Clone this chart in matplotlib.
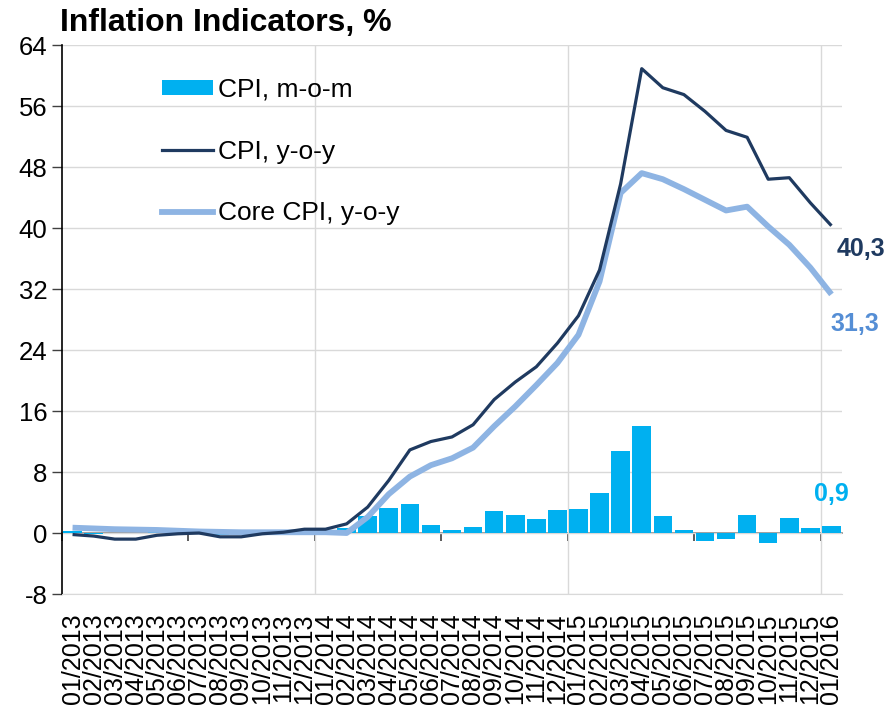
import matplotlib
matplotlib.use("Agg")
import matplotlib.pyplot as plt
from matplotlib.patches import Patch
from matplotlib.lines import Line2D
import numpy as np

plt.rcParams['font.family'] = ['Liberation Sans', 'DejaVu Sans']
plt.rcParams['axes.unicode_minus'] = False

# data, monthly 01/2013 - 01/2016
months = ['01/2013', '02/2013', '03/2013', '04/2013', '05/2013', '06/2013',
          '07/2013', '08/2013', '09/2013', '10/2013', '11/2013', '12/2013',
          '01/2014', '02/2014', '03/2014', '04/2014', '05/2014', '06/2014',
          '07/2014', '08/2014', '09/2014', '10/2014', '11/2014', '12/2014',
          '01/2015', '02/2015', '03/2015', '04/2015', '05/2015', '06/2015',
          '07/2015', '08/2015', '09/2015', '10/2015', '11/2015', '12/2015',
          '01/2016']
cpi_mom = [0.2, -0.1, 0.0, 0.0, 0.1, 0.1, -0.1, -0.3, 0.0, 0.4, 0.2, 0.5,
           0.2, 0.6, 2.2, 3.3, 3.8, 1.0, 0.4, 0.8, 2.9, 2.4, 1.9, 3.0,
           3.1, 5.3, 10.8, 14.0, 2.2, 0.4, -1.0, -0.8, 2.3, -1.3, 2.0, 0.7, 0.9]
cpi_yoy = [-0.2, -0.4, -0.8, -0.8, -0.3, -0.1, 0.0, -0.5, -0.5, -0.1, 0.1, 0.5,
           0.5, 1.2, 3.4, 6.9, 10.9, 12.0, 12.6, 14.2, 17.5, 19.8, 21.8, 24.9,
           28.5, 34.5, 45.8, 60.9, 58.4, 57.5, 55.3, 52.8, 51.9, 46.4, 46.6, 43.3, 40.3]
core_yoy = [0.7, 0.6, 0.5, 0.45, 0.4, 0.3, 0.2, 0.15, 0.1, 0.1, 0.1, 0.1,
            0.1, 0.0, 2.1, 5.1, 7.4, 8.9, 9.8, 11.2, 14.0, 16.6, 19.4, 22.3,
            26.0, 33.0, 44.6, 47.2, 46.4, 45.1, 43.7, 42.3, 42.8, 40.2, 37.8, 34.8, 31.3]

C_BAR = '#00B0F0'
C_CPI = '#1F3A60'
C_CORE = '#8EB4E3'
C_CORE_LBL = '#558ED5'

YMIN, YMAX = -8, 64

fig = plt.figure(figsize=(8.91, 7.08), dpi=100)
ax = fig.add_axes([0.0696, 0.161, 0.8754, 0.7754])

x = np.arange(len(months))
ax.bar(x, cpi_mom, width=0.88, color=C_BAR, zorder=2)
ax.plot(x, core_yoy, color=C_CORE, lw=4.2, zorder=3, solid_capstyle='butt')
ax.plot(x, cpi_yoy, color=C_CPI, lw=2.3, zorder=4, solid_capstyle='butt')

ax.set_xlim(-0.5, len(months) - 0.5)
ax.set_ylim(YMIN, YMAX)
ax.set_yticks(np.arange(YMIN, YMAX + 1, 8))
ax.tick_params(axis='y', labelsize=18.5, direction='out', length=7, width=1, color='#404040')
ax.grid(axis='y', color='#D9D9D9', lw=1, zorder=0)

ax.set_xticks(x)
ax.set_xticklabels(months, rotation=90, fontsize=18)
ax.tick_params(axis='x', which='major', length=0, pad=14)
# year separators
ax.set_xticks([11.5, 23.5, 35.5], minor=True)
ax.tick_params(axis='x', which='minor', length=0)
ax.grid(axis='x', which='minor', color='#D9D9D9', lw=1, zorder=0)
ax.set_axisbelow(True)

for s in ['top', 'right']:
    ax.spines[s].set_visible(False)
ax.spines['bottom'].set_color('#D9D9D9')
ax.spines['left'].set_color('black')
ax.spines['left'].set_linewidth(1.2)

# zero axis with half-year tick marks
sec = ax.secondary_xaxis((0 - YMIN) / (YMAX - YMIN))
sec.set_xticks(np.arange(-0.5, len(months), 6))
sec.tick_params(direction='out', length=6, width=1.2, color='#404040', labelbottom=False, labeltop=False)
sec.spines['bottom'].set_color('#808080')
sec.spines['bottom'].set_linewidth(1.2)
sec.spines['top'].set_visible(False)

def fmt(v):
    return f"{v:.1f}".replace('.', ',')

ax.annotate(fmt(cpi_yoy[-1]), (x[-1], cpi_yoy[-1]), xytext=(21, -17), textcoords='offset points',
            ha='center', va='center', fontsize=18, fontweight='bold', color=C_CPI, annotation_clip=False)
ax.annotate(fmt(core_yoy[-1]), (x[-1], core_yoy[-1]), xytext=(17, -21), textcoords='offset points',
            ha='center', va='center', fontsize=18, fontweight='bold', color=C_CORE_LBL, annotation_clip=False)
ax.annotate(fmt(cpi_mom[-1]), (x[-1], cpi_mom[-1]), xytext=(0, 23), textcoords='offset points',
            ha='center', va='center', fontsize=18, fontweight='bold', color=C_BAR, annotation_clip=False)

handles = [Patch(facecolor=C_BAR, edgecolor='none'),
           Line2D([], [], color=C_CPI, lw=2.3),
           Line2D([], [], color=C_CORE, lw=4.2)]
ax.legend(handles, ['CPI, m-o-m', 'CPI, y-o-y', 'Core CPI, y-o-y'],
          loc='upper left', bbox_to_anchor=(0.128, 0.940), frameon=False, fontsize=19,
          handlelength=1.93, handleheight=0.5, handletextpad=0.2, labelspacing=1.43,
          borderpad=0, borderaxespad=0)

fig.text(0.067, 0.967, 'Inflation Indicators, %', fontsize=23, fontweight='bold', va='center', ha='left')

fig.savefig('out.png', dpi=100)
